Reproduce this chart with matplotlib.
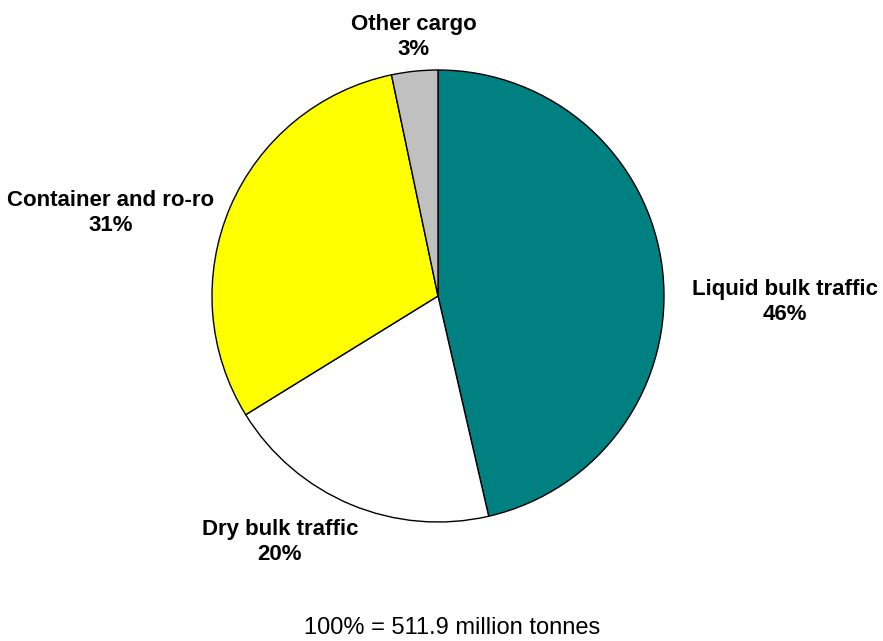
import matplotlib
matplotlib.use("Agg")
import matplotlib.pyplot as plt

categories = ["Liquid bulk traffic", "Dry bulk traffic", "Container and ro-ro", "Other cargo"]
shares = [46.4, 19.8, 30.5, 3.3]
pct_labels = ["46%", "20%", "31%", "3%"]
colors = ["#008080", "#FFFFFF", "#FFFF00", "#C0C0C0"]
footer = "100% = 511.9 million tonnes"

W, H = 883, 641
cx, cy, R = 438, 296, 226

plt.rcParams['font.family'] = ['Liberation Sans', 'DejaVu Sans']
fig = plt.figure(figsize=(W/100, H/100), dpi=100)
ax = fig.add_axes([0, 0, 1, 1])
ax.axis('off')

ax.pie(shares, colors=colors, startangle=90, counterclock=False, radius=1,
       wedgeprops=dict(edgecolor='black', linewidth=1.0), frame=False)
ax.set_xlim(-cx/R, (W-cx)/R)
ax.set_ylim(-(H-cy)/R, cy/R)
ax.set_aspect('auto')

label_px = [(785, 302), (280, 542), (111, 213), (414, 37)]
for (px, py), cat, p in zip(label_px, categories, pct_labels):
    ax.text((px-cx)/R, -(py-cy)/R, f"{cat}\n{p}", ha='center', va='center',
            fontsize=16, fontweight='bold', linespacing=1.3)

fig.text(452/W, 1-628/H, footer, ha='center', va='center', fontsize=17)

fig.savefig("out.png", dpi=100, facecolor='white')
